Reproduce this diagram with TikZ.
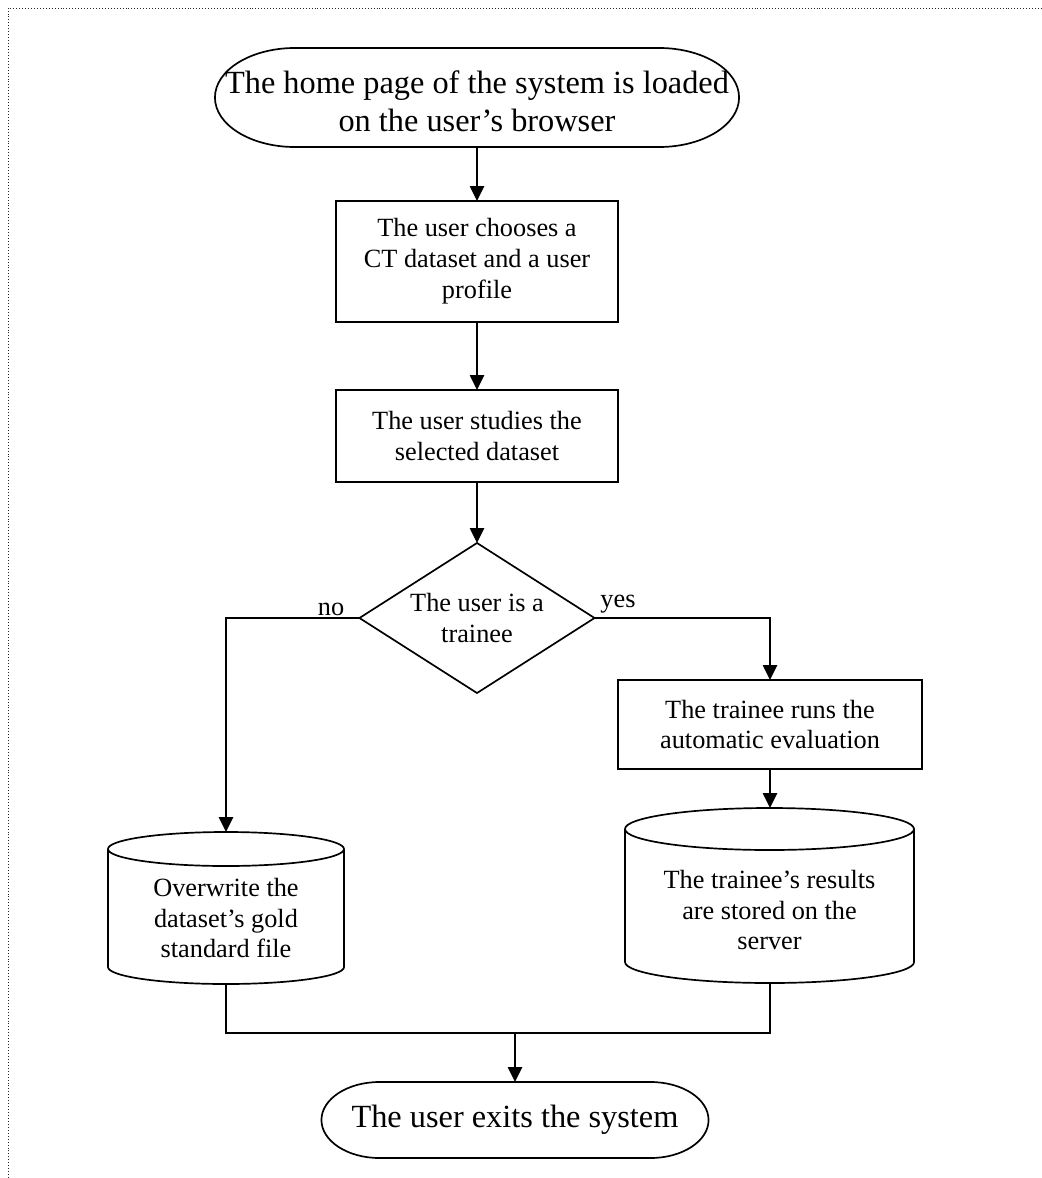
\documentclass[tikz,border=0pt]{standalone}
\usepackage{fontspec}
\setmainfont{Liberation Serif}
\usetikzlibrary{arrows.meta,shapes.geometric}

\newcommand\boxfont{\fontsize{18.7}{22}\selectfont}
\newcommand\termfont{\fontsize{23}{27}\selectfont}

\tikzset{
  thickline/.style={line width=1.2pt},
  arr/.style={thickline, -{Triangle[length=10.5pt,width=10pt]}},
  stepbox/.style={draw, thickline, rectangle, align=center, font=\boxfont, inner sep=0pt, outer sep=0pt},
  decision/.style={draw, thickline, diamond, aspect=1.567, align=center, font=\boxfont,
    inner sep=0pt, outer sep=0pt, minimum width=5.875cm, minimum height=3.75cm},
  term/.style={rectangle, align=center, font=\termfont, inner sep=0pt, outer sep=0pt},
  txt/.style={align=center, font=\boxfont, inner sep=0pt},
}

\begin{document}
\begin{tikzpicture}[x=0.025cm, y=-0.025cm]
  \useasboundingbox (0,0) rectangle (1041,1178);
  % 左、上两条点线边框
  \draw[dash pattern=on 0.7pt off 1.4pt, line width=0.7pt, black!85] (8,1178) -- (8,8) -- (1041,8);

  % 开始：圆头框
  \node[term, minimum width=13.1cm, minimum height=2.475cm,
    label={[term, yshift=-3pt]center:{The home page of the system is loaded\\on the user's browser}}]
    (home) at (477,97.5) {};
  \draw[thickline] ([xshift=2cm]home.north west) -- ([xshift=-2cm]home.north east)
    arc[start angle=90, end angle=-90, x radius=2cm, y radius=1.2375cm]
    -- ([xshift=2cm]home.south west)
    arc[start angle=270, end angle=90, x radius=2cm, y radius=1.2375cm] -- cycle;

  % 步骤与判断
  \node[stepbox, minimum width=7.05cm, minimum height=3.025cm] (choose) at (477,261.5)
    {The user chooses a\\CT dataset and a user\\profile};
  \node[stepbox, minimum width=7.05cm, minimum height=2.3cm] (study) at (477,436)
    {The user studies the\\selected dataset};
  \node[decision] (trainee) at (477,618) {The user is a\\trainee};
  \node[stepbox, minimum width=7.6cm, minimum height=2.225cm] (evaluate) at (770,724.5)
    {The trainee runs the\\automatic evaluation};

  % 两个数据库（圆柱）
  \coordinate (goldtop) at (226,832);
  \coordinate (goldbot) at (226,984);
  \draw[thickline] (226,849) ellipse [x radius=2.95cm, y radius=0.425cm];
  \draw[thickline] (108,849) -- (108,967)
    arc[start angle=180, end angle=360, x radius=2.95cm, y radius=0.425cm] -- (344,849);
  \node[txt] (gold) at (226,918) {Overwrite the\\dataset's gold\\standard file};

  \coordinate (restop) at (770,808);
  \coordinate (resbot) at (770,983);
  \draw[thickline] (769.5,829) ellipse [x radius=3.6125cm, y radius=0.525cm];
  \draw[thickline] (625,829) -- (625,962)
    arc[start angle=180, end angle=360, x radius=3.6125cm, y radius=0.525cm] -- (914,829);
  \node[txt] (results) at (769.5,910) {The trainee's results\\are stored on the\\server};

  % 结束：圆头框
  \node[term, minimum width=9.675cm, minimum height=1.9cm] (exit) at (515,1120)
    {The user exits the system};
  \draw[thickline] ([xshift=1.45cm]exit.north west) -- ([xshift=-1.45cm]exit.north east)
    arc[start angle=90, end angle=-90, x radius=1.45cm, y radius=0.95cm]
    -- ([xshift=1.45cm]exit.south west)
    arc[start angle=270, end angle=90, x radius=1.45cm, y radius=0.95cm] -- cycle;

  % 连线
  \draw[arr] (home.south) -- (choose.north);
  \draw[arr] (choose.south) -- (study.north);
  \draw[arr] (study.south) -- (trainee.north);
  \draw[arr] (trainee.west) -| (goldtop);
  \draw[arr] (trainee.east) -| (evaluate.north);
  \draw[arr] (evaluate.south) -- (restop);
  \coordinate (merge) at (515,1033);
  \draw[thickline] (goldbot) |- (merge) -| (resbot);
  \draw[arr] (merge) -- (exit.north);

  % 分支标注
  \node[txt, anchor=base] (nolbl) at (331,615) {no};
  \node[txt, anchor=base] (yeslbl) at (618,607) {yes};
\end{tikzpicture}
\end{document}
